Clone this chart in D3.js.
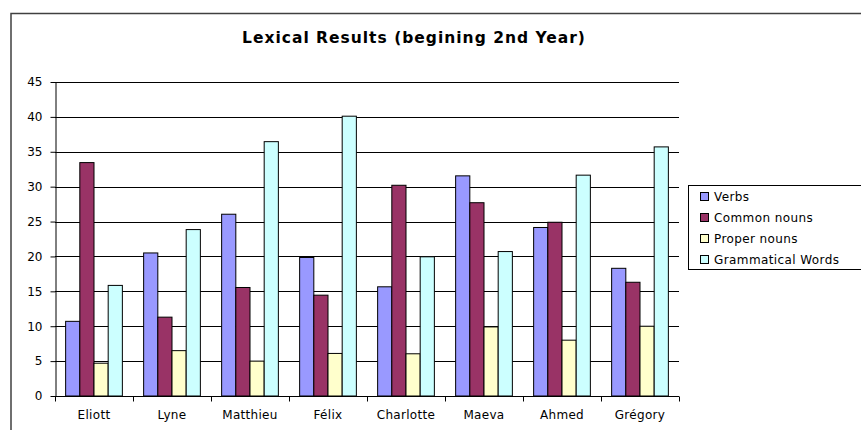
<!DOCTYPE html>
<html>
<head>
<meta charset="utf-8">
<script src="https://cdn.jsdelivr.net/npm/d3@7"></script>
<style>
  body { margin: 0; background: #fff; }
  svg { display: block; font-family: "DejaVu Sans", Verdana, sans-serif; }
</style>
</head>
<body>
<div id="chart"></div>
<script>
// data
var students = ["Eliott", "Lyne", "Matthieu", "Félix", "Charlotte", "Maeva", "Ahmed", "Grégory"]
var seriesNames = ["Verbs", "Common nouns", "Proper nouns", "Grammatical Words"]
var verbs = [10.7, 20.5, 26.05, 19.85, 15.65, 31.55, 24.15, 18.3]
var commonNouns = [33.45, 11.3, 15.55, 14.45, 30.2, 27.7, 24.9, 16.3]
var properNouns = [4.7, 6.5, 5.0, 6.1, 6.05, 9.9, 8.0, 10.0]
var grammaticalWords = [15.85, 23.85, 36.45, 40.1, 19.95, 20.7, 31.65, 35.7]
var yTicks = [0, 5, 10, 15, 20, 25, 30, 35, 40, 45]
var colors = ["#9999ff", "#993366", "#ffffcc", "#ccffff"]

var allSeries = [verbs, commonNouns, properNouns, grammaticalWords]

var width = 861, height = 430
var margin = { top: 82, left: 55, bottom: 34 }
var plotW = 624, plotH = 396 - margin.top

var svg = d3.select("#chart")
  .append("svg")
  .attr("width", width)
  .attr("height", height)

// outer chart frame (right and bottom run off the picture)
svg.append("rect")
  .attr("x", 11)
  .attr("y", 13.5)
  .attr("width", 870)
  .attr("height", 440)
  .attr("fill", "none")
  .attr("stroke", "#404040")
  .attr("stroke-width", 1.5)

svg.append("text")
  .attr("x", 414)
  .attr("y", 43)
  .attr("text-anchor", "middle")
  .style("font-weight", "bold")
  .style("font-size", "15.5px")
  .style("letter-spacing", "1px")
  .text("Lexical Results (begining 2nd Year)")

var g = svg.append("g")
  .attr("transform", "translate(" + margin.left + "," + margin.top + ")")

var x = d3.scaleBand()
  .domain(students)
  .range([0, plotW])

// Excel-style gap width 150%
var bw = x.bandwidth() / 5.5
var x1 = d3.scaleBand()
  .domain(seriesNames)
  .range([bw * 0.75, bw * 4.75])

var y = d3.scaleLinear()
  .domain([0, 45])
  .range([plotH, 0])

// gridlines
g.append("g")
  .selectAll("line")
  .data(yTicks.slice(1))
  .enter()
  .append("line")
  .attr("x1", 0)
  .attr("x2", plotW)
  .attr("y1", d => Math.round(y(d)) + 0.5)
  .attr("y2", d => Math.round(y(d)) + 0.5)
  .attr("stroke", "#000")

// bars
seriesNames.forEach((s, i) => {
  g.append("g")
    .selectAll("rect")
    .data(allSeries[i])
    .enter()
    .append("rect")
    .attr("x", (d, j) => x(students[j]) + x1(s))
    .attr("y", d => y(d))
    .attr("width", x1.bandwidth())
    .attr("height", d => plotH - y(d))
    .attr("fill", colors[i])
    .attr("stroke", "#000")
    .attr("stroke-width", 1)
})

// y axis
var yAxis = g.append("g")
  .attr("transform", "translate(0.5,0)")
  .call(d3.axisLeft(y).tickValues(yTicks).tickSize(5).tickSizeOuter(0))
yAxis.select(".domain").attr("stroke", "#000")
yAxis.selectAll("text")
  .attr("x", -13)
  .style("font-size", "12px")
  .style("font-family", "'DejaVu Sans', Verdana, sans-serif")
  .attr("fill", "#000")

// x axis: ticks on category boundaries
var xAxis = g.append("g")
  .attr("transform", "translate(0," + (plotH + 0.5) + ")")
xAxis.append("line")
  .attr("x1", 0)
  .attr("x2", plotW)
  .attr("stroke", "#000")
xAxis.selectAll("line.tick")
  .data(students.concat([null]))
  .enter()
  .append("line")
  .attr("class", "tick")
  .attr("x1", d => Math.round(d ? x(d) : plotW) + 0.5)
  .attr("x2", d => Math.round(d ? x(d) : plotW) + 0.5)
  .attr("y1", 0)
  .attr("y2", 5)
  .attr("stroke", "#000")
xAxis.selectAll("text")
  .data(students)
  .enter()
  .append("text")
  .attr("x", d => x(d) + x.bandwidth() / 2)
  .attr("y", 22)
  .attr("text-anchor", "middle")
  .style("font-size", "12px")
  .style("letter-spacing", "0.3px")
  .text(d => d)

// legend
var legend = svg.append("g").attr("transform", "translate(688,185)")
legend.append("rect")
  .attr("x", 0.5)
  .attr("y", 0.5)
  .attr("width", 200)
  .attr("height", 84)
  .attr("fill", "#fff")
  .attr("stroke", "#000")
var items = legend.selectAll("g.item")
  .data(seriesNames)
  .enter()
  .append("g")
  .attr("class", "item")
  .attr("transform", (d, i) => "translate(12," + (11 + i * 21) + ")")
items.append("rect")
  .attr("x", 0.5)
  .attr("y", -3.5)
  .attr("width", 8)
  .attr("height", 8)
  .attr("fill", (d, i) => colors[i])
  .attr("stroke", "#000")
items.append("text")
  .attr("x", 14)
  .attr("y", 4.5)
  .style("font-size", "12px")
  .style("letter-spacing", "0.4px")
  .text(d => d)
</script>
</body>
</html>
